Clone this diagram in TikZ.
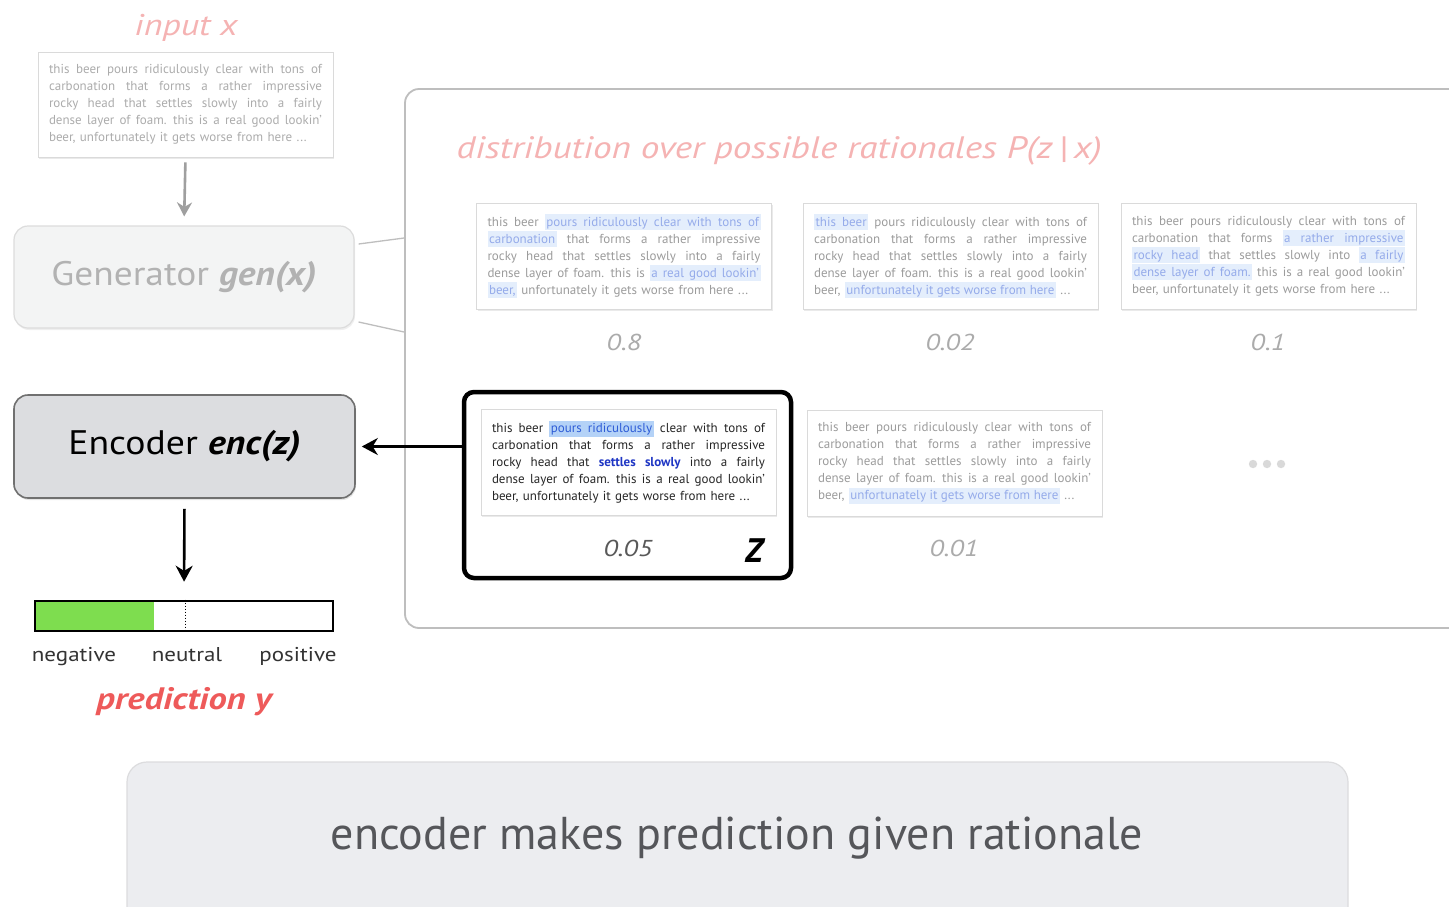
\documentclass[tikz,border=0pt]{standalone}
\usepackage{fontspec}
\setmainfont{PT Sans}
\usetikzlibrary{arrows.meta,shadows,calc}

\definecolor{pinktxt}{HTML}{F5B3B3}
\definecolor{predred}{HTML}{EE5A5A}
\definecolor{boxline}{HTML}{DADADA}
\definecolor{boxtxt}{HTML}{9C9C9C}
\definecolor{inputtxt}{HTML}{ACACAC}
\definecolor{hlpale}{HTML}{E4EEFC}
\definecolor{hlpaletxt}{HTML}{95ABEA}
\definecolor{hlstrong}{HTML}{B4D2F7}
\definecolor{hlstrongtxt}{HTML}{2E5CD6}
\definecolor{blueword}{HTML}{1F36C4}
\definecolor{probtxt}{HTML}{ABABAB}
\definecolor{genfill}{HTML}{F3F4F4}
\definecolor{genline}{HTML}{DCDCDC}
\definecolor{gentxt}{HTML}{B2B2B2}
\definecolor{encfill}{HTML}{DCDDE0}
\definecolor{encline}{HTML}{707070}
\definecolor{distline}{HTML}{BEBEBE}
\definecolor{barGreen}{HTML}{7EDD4F}
\definecolor{labeltxt}{HTML}{333333}
\definecolor{footfill}{HTML}{ECEDF0}
\definecolor{footline}{HTML}{DCDCDE}
\definecolor{foottxt}{HTML}{55565A}
\definecolor{dotgray}{HTML}{D9D9D9}

% one justified line of a rationale card, and its unstretched last line
\newlength\cardw
\setlength\cardw{273pt}
\newcommand\jline[1]{\leavevmode{\spaceskip=\fontdimen2\font plus 1fil\relax
  \hbox to\cardw{#1}}\\}
\newcommand\eline[1]{\leavevmode\hbox to\cardw{#1\hfill}}

% highlighted spans: each word sits on a coloured box, and the gaps between
% the words are coloured leaders that stretch like ordinary spaces
\ExplSyntaxOn
\seq_new:N \l__card_words_seq
\bool_new:N \l__card_first_bool
\cs_new_protected:Npn \card_word:nnn #1#2#3
  {
    \group_begin:
    \setlength \fboxsep { 0pt }
    \colorbox {#1} { \rule [-4pt] { 0pt } { 16pt } \kern 1.5pt \textcolor {#2} {#3} \kern 1.5pt }
    \group_end:
  }
\cs_new_protected:Npn \card_gap:n #1
  {
    \group_begin:
    \color {#1}
    \leaders \hrule height 12pt depth 4pt
      \hskip \dim_eval:n { \fontdimen 2 \font - 3pt } plus 1fil \scan_stop:
    \group_end:
  }
\cs_new_protected:Npn \card_hl:nnn #1#2#3
  {
    \seq_set_split:Nnn \l__card_words_seq { ~ } {#3}
    \bool_set_true:N \l__card_first_bool
    \seq_map_inline:Nn \l__card_words_seq
      {
        \bool_if:NF \l__card_first_bool { \card_gap:n {#1} }
        \bool_set_false:N \l__card_first_bool
        \card_word:nnn {#1} {#2} {##1}
      }
  }
\NewDocumentCommand \hlp { m } { \card_hl:nnn { hlpale } { hlpaletxt } {#1} }
\NewDocumentCommand \hls { m } { \card_hl:nnn { hlstrong } { hlstrongtxt } {#1} }
\ExplSyntaxOff

\newcommand\bword[1]{\textcolor{blueword}{\bfseries #1}}
% labels set a little wider than the font's natural width
\newcommand\wide[2]{\scalebox{#1}[1]{#2}}

\begin{document}
\begin{tikzpicture}[x=1pt,y=-1pt,
  card/.style={draw=boxline, fill=white, line width=0.8pt,
    minimum width=295pt, minimum height=106pt, inner xsep=11pt, inner ysep=0pt,
    text width=273pt, align=left, font=\fontsize{13}{17}\selectfont, text=boxtxt,
    drop shadow={shadow xshift=1pt, shadow yshift=-1.5pt, opacity=0.16}},
  prob/.style={font=\fontsize{23}{26}\selectfont\itshape, text=probtxt},
  modelbox/.style={rounded corners=14pt, minimum width=340pt, minimum height=102pt,
    font=\fontsize{34}{40}\selectfont},
  grayarrow/.style={draw=gray!75, line width=2.6pt, -{Stealth[length=14pt,width=15pt]}},
  blackarrow/.style={draw=black, line width=2.6pt, -{Stealth[length=16pt,width=17pt]}},
  scale label/.style={font=\fontsize{20}{24}\selectfont, text=labeltxt, anchor=base},
]
\useasboundingbox (0,0) rectangle (1449,906);
\clip (0,0) rectangle (1449,906);
\fill[white] (0,0) rectangle (1449,906);

% ---------- distribution panel ----------
\node[draw=distline, line width=1.8pt, rounded corners=14pt,
      minimum width=1070pt, minimum height=539pt] (dist) at (940,358.5) {};
\node[anchor=west, font=\fontsize{31}{36}\selectfont\itshape, text=pinktxt]
  (disttitle) at (453,151) {\wide{1.2}{distribution over possible rationales P(z\,|\,x)}};

% ---------- footer ----------
\node[draw=footline, fill=footfill, line width=1.2pt, rounded corners=20pt,
      minimum width=1221pt, minimum height=170pt] (foot) at (737.5,847) {};
\node[font=\fontsize{46}{52}\selectfont, text=foottxt] (foottext) at (737,838)
  {encoder makes prediction given rationale};

% ---------- input ----------
\node[font=\fontsize{30}{34}\selectfont\itshape, text=pinktxt] (inlabel) at (186,28)
  {\wide{1.2}{input x}};
\node[card, text=inputtxt, minimum height=105pt] (input) at (185.5,104.5) {%
  \jline{this beer pours ridiculously clear with tons of}
  \jline{carbonation that forms a rather impressive}
  \jline{rocky head that settles slowly into a fairly}
  \jline{dense layer of foam. this is a real good lookin'}
  \eline{beer, unfortunately it gets worse from here ...}};

% ---------- generator ----------
\node[modelbox, draw=genline, fill=genfill, line width=1.2pt, text=gentxt,
      drop shadow={shadow xshift=1pt, shadow yshift=-2pt, opacity=0.12}]
  (gen) at (184,277) {\wide{1.1}{Generator \textbf{\textit{gen(x)}}}};

% ---------- encoder ----------
\node[modelbox, draw=encline, fill=encfill, line width=1.6pt, text=black,
      minimum width=341pt, minimum height=103pt,
      drop shadow={shadow xshift=1pt, shadow yshift=-2pt, opacity=0.2}]
  (enc) at (184.5,446.5) {\wide{1.11}{Encoder \textbf{\textit{enc(z)}}}};

% ---------- rationale cards, first row ----------
\node[card] (r1) at (624,256) {%
  \jline{this beer \hlp{pours ridiculously clear with tons of}}
  \jline{\hlp{carbonation} that forms a rather impressive}
  \jline{rocky head that settles slowly into a fairly}
  \jline{dense layer of foam. this is \hlp{a real good lookin'}}
  \eline{\hlp{beer,} unfortunately it gets worse from here ...}};
\node[card] (r2) at (950.5,256) {%
  \jline{\hlp{this beer} pours ridiculously clear with tons of}
  \jline{carbonation that forms a rather impressive}
  \jline{rocky head that settles slowly into a fairly}
  \jline{dense layer of foam. this is a real good lookin'}
  \eline{beer, \hlp{unfortunately it gets worse from here} ...}};
\node[card] (r3) at (1268.5,256) {%
  \jline{this beer pours ridiculously clear with tons of}
  \jline{carbonation that forms \hlp{a rather impressive}}
  \jline{\hlp{rocky head} that settles slowly into \hlp{a fairly}}
  \jline{\hlp{dense layer of foam.} this is a real good lookin'}
  \eline{beer, unfortunately it gets worse from here ...}};
\node[prob] (p1) at (624,342) {\wide{1.2}{0.8}};
\node[prob] (p2) at (950,342) {\wide{1.2}{0.02}};
\node[prob] (p3) at (1268,342) {\wide{1.2}{0.1}};

% ---------- second row: the sampled rationale z ----------
\node[draw=black, line width=4.5pt, rounded corners=10pt,
      minimum width=327pt, minimum height=186pt] (sel) at (627.5,485) {};
\node[card, text=black!85] (r4) at (628.5,462) {%
  \jline{this beer \hls{pours ridiculously} clear with tons of}
  \jline{carbonation that forms a rather impressive}
  \jline{rocky head that \bword{settles slowly} into a fairly}
  \jline{dense layer of foam. this is a real good lookin'}
  \eline{beer, unfortunately it gets worse from here ...}};
\node[prob, text=black!65] (p4) at (628,548) {\wide{1.2}{0.05}};
\node[font=\fontsize{34}{38}\selectfont\bfseries\itshape] (zlabel) at (754,551) {Z};

\node[card] (r5) at (954.5,463) {%
  \jline{this beer pours ridiculously clear with tons of}
  \jline{carbonation that forms a rather impressive}
  \jline{rocky head that settles slowly into a fairly}
  \jline{dense layer of foam. this is a real good lookin'}
  \eline{beer, \hlp{unfortunately it gets worse from here} ...}};
\node[prob] (p5) at (954,548) {\wide{1.2}{0.01}};

% more rationales
\foreach \dx in {-14,0,14}
  \fill[dotgray] (1267+\dx,464) circle (4.2pt);

% ---------- prediction bar ----------
\fill[barGreen] (35,601) rectangle (154,631);
\node[draw=black, line width=2.6pt, minimum width=298pt, minimum height=30pt,
      inner sep=0pt] (bar) at (184,616) {};
\draw[dotted, line width=1pt] ($(bar.north)+(1,0)$) -- ($(bar.south)+(1,0)$);
\node[scale label] (neg) at (74,661) {\wide{1.15}{negative}};
\node[scale label] (neu) at (187,661) {\wide{1.15}{neutral}};
\node[scale label] (pos) at (298,661) {\wide{1.15}{positive}};
\node[font=\fontsize{31}{36}\selectfont\bfseries\itshape, text=predred] (predlabel)
  at (184,702) {\wide{1.18}{prediction y}};

% ---------- connectors ----------
\draw[grayarrow, shorten <=5pt, shorten >=9pt] (input.south) -- (gen.north);
\draw[draw=distline, line width=1.3pt]
  ([xshift=4pt,yshift=33pt]gen.east) -- ([yshift=120.5pt]dist.west);
\draw[draw=distline, line width=1.3pt]
  ([xshift=4pt,yshift=-45pt]gen.east) -- ([yshift=26.5pt]dist.west);
\draw[blackarrow, shorten >=6pt] (sel.west |- enc.east) -- (enc.east);
\draw[blackarrow, shorten <=10pt, shorten >=18pt] (enc.south) -- (bar.north);
\end{tikzpicture}
\end{document}
